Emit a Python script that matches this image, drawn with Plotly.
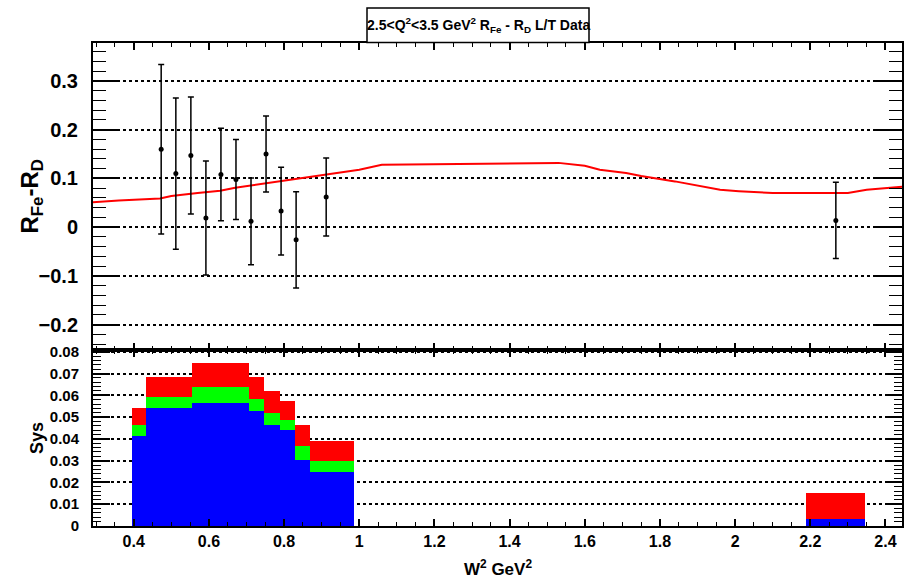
import plotly.graph_objects as go

# ---- data ----
w2_pts = [0.473, 0.512, 0.552, 0.592, 0.632, 0.672, 0.712, 0.752, 0.792, 0.832, 0.912, 2.268]
r_pts = [0.160, 0.110, 0.147, 0.019, 0.108, 0.098, 0.012, 0.150, 0.033, -0.026, 0.062, 0.014]
r_err = [0.174, 0.155, 0.120, 0.117, 0.095, 0.082, 0.089, 0.078, 0.090, 0.099, 0.080, 0.078]

curve_w2 = [0.29, 0.36, 0.47, 0.50, 0.57, 0.63, 0.67, 0.73, 0.79, 0.86, 0.94, 1.00, 1.06, 1.30,
            1.53, 1.60, 1.64, 1.71, 1.75, 1.84, 1.91, 1.96, 2.01, 2.07, 2.10, 2.30, 2.35, 2.444]
curve_r = [0.051, 0.055, 0.059, 0.064, 0.070, 0.075, 0.081, 0.088, 0.094, 0.102, 0.111, 0.118,
           0.128, 0.130, 0.132, 0.126, 0.118, 0.111, 0.105, 0.094, 0.084, 0.077, 0.074, 0.072,
           0.070, 0.070, 0.077, 0.083]

bin_left = [0.3955, 0.4338, 0.5553, 0.707, 0.747, 0.789, 0.829, 0.869, 2.189]
bin_right = [0.4338, 0.5553, 0.707, 0.747, 0.789, 0.829, 0.869, 0.986, 2.345]
sys_red = [0.0543, 0.0682, 0.0750, 0.0682, 0.0618, 0.0573, 0.0465, 0.0390, 0.0150]
sys_green = [0.0463, 0.0593, 0.0639, 0.0584, 0.0520, 0.0486, 0.0367, 0.0299, 0.0031]
sys_blue = [0.0411, 0.0543, 0.0563, 0.0529, 0.0466, 0.0443, 0.0302, 0.0247, 0.0031]

x_ticks = [0.4, 0.6, 0.8, 1.0, 1.2, 1.4, 1.6, 1.8, 2.0, 2.2, 2.4]
x_ticktext = ["0.4", "0.6", "0.8", "1", "1.2", "1.4", "1.6", "1.8", "2", "2.2", "2.4"]

# ---- figure ----
W, H = 913, 586
L, R, T, B = 93, 11, 43, 60
split_px = 350
plot_h = H - T - B
split = (H - B - split_px) / plot_h

FONT = "Liberation Sans, Arial, sans-serif"

def px2paper_x(px):
    return (px - L) / (W - L - R)
def px2paper_y(py):
    return (H - B - py) / plot_h

fig = go.Figure()

centers = [(a + b) / 2 for a, b in zip(bin_left, bin_right)]
widths = [b - a for a, b in zip(bin_left, bin_right)]
for vals, col in [(sys_red, "#ff0000"), (sys_green, "#00ff00"), (sys_blue, "#0000ff")]:
    fig.add_trace(go.Bar(x=centers, y=vals, width=widths, base=0, marker=dict(color=col, line=dict(width=0)),
                         xaxis="x", yaxis="y", showlegend=False))

fig.add_trace(go.Scatter(x=curve_w2, y=curve_r, mode="lines", line=dict(color="#ff0000", width=2),
                         xaxis="x2", yaxis="y2", showlegend=False))
fig.add_trace(go.Scatter(x=w2_pts, y=r_pts, mode="markers",
                         marker=dict(color="black", size=5),
                         error_y=dict(type="data", array=r_err, color="black", thickness=1.5, width=3),
                         xaxis="x2", yaxis="y2", showlegend=False))

xrange_ = [0.2916, 2.444]
common_x = dict(range=xrange_, ticks="inside", mirror="allticks", showline=True, linecolor="black",
                linewidth=2, tickcolor="black", tickwidth=1.5, showgrid=False, zeroline=False,
                tickvals=x_ticks, ticktext=x_ticktext, ticklen=7,
                minor=dict(dtick=0.05, tick0=0.4, ticklen=4, ticks="inside", tickcolor="black", tickwidth=1.2))

fig.update_layout(
    width=W, height=H, margin=dict(l=L, r=R, t=T, b=B, autoexpand=False),
    plot_bgcolor="white", paper_bgcolor="white", barmode="overlay", bargap=0,
    font=dict(family=FONT, color="black"),
    xaxis=dict(**common_x, anchor="y", domain=[0, 1],
               tickfont=dict(size=16, family=FONT, weight="bold")),
    xaxis2=dict(**common_x, anchor="y2", matches="x", showticklabels=False),
    yaxis=dict(domain=[0, split], range=[0, 0.0808], dtick=0.01, tick0=0, ticks="inside", ticklen=17,
               mirror="allticks", showline=True, linecolor="black", linewidth=2, tickcolor="black", tickwidth=1.5,
               showgrid=True, gridcolor="black", griddash="dot", gridwidth=1.5, zeroline=False,
               minor=dict(dtick=0.002, ticklen=8, ticks="inside", tickcolor="black", tickwidth=1.2, showgrid=False),
               tickfont=dict(size=15, family=FONT, weight="bold"), ticklabelstandoff=9),
    yaxis2=dict(domain=[split, 1], range=[-0.252, 0.378], dtick=0.1, tick0=0, ticks="inside", ticklen=26,
                mirror="allticks", showline=True, linecolor="black", linewidth=2, tickcolor="black", tickwidth=1.5,
                showgrid=True, gridcolor="black", griddash="dot", gridwidth=1.5, zeroline=False,
                minor=dict(dtick=0.02, ticklen=13, ticks="inside", tickcolor="black", tickwidth=1.2, showgrid=False),
                tickfont=dict(size=20, family=FONT, weight="bold"), ticklabelstandoff=9),
)

# axis titles as annotations (positioned like the reference)
fig.add_annotation(xref="paper", yref="paper", x=px2paper_x(31), y=px2paper_y((T + split_px) / 2),
                   text="R<sub>Fe</sub>-R<sub>D</sub>", textangle=-90, showarrow=False,
                   font=dict(size=24, family=FONT, weight="bold"), xanchor="center", yanchor="middle")
fig.add_annotation(xref="paper", yref="paper", x=px2paper_x(37), y=px2paper_y((split_px + H - B) / 2),
                   text="Sys", textangle=-90, showarrow=False,
                   font=dict(size=18, family=FONT, weight="bold"), xanchor="center", yanchor="middle")
fig.add_annotation(xref="paper", yref="paper", x=px2paper_x((L + W - R) / 2), y=px2paper_y(568),
                   text="W<sup>2</sup> GeV<sup>2</sup>", showarrow=False,
                   font=dict(size=17, family=FONT, weight="bold"), xanchor="center", yanchor="middle")

# title box
bx0, bx1, by0, by1 = 367, 589, 8, 42.5
fig.add_shape(type="rect", xref="paper", yref="paper",
              x0=px2paper_x(bx0), x1=px2paper_x(bx1), y0=px2paper_y(by1), y1=px2paper_y(by0),
              line=dict(color="black", width=1.5), fillcolor="white", layer="above")
fig.add_annotation(xref="paper", yref="paper", x=px2paper_x((bx0 + bx1) / 2), y=px2paper_y((by0 + by1) / 2),
                   text="2.5&lt;Q<sup>2</sup>&lt;3.5 GeV<sup>2</sup> R<sub>Fe</sub> - R<sub>D</sub> L/T Data",
                   showarrow=False, font=dict(size=14, family=FONT, weight="bold"), xanchor="center",
                   yanchor="middle")

fig.write_html("out.html")
